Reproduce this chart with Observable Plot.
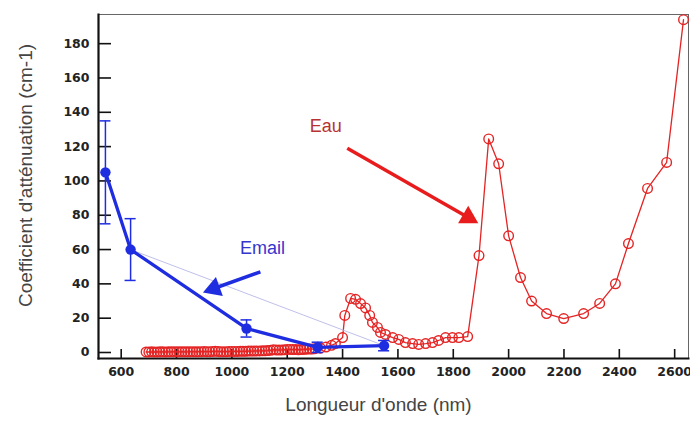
<!DOCTYPE html>
<html>
<head>
<meta charset="utf-8">
<script src="https://cdn.jsdelivr.net/npm/d3@7"></script>
<script src="https://cdn.jsdelivr.net/npm/@observablehq/plot@0.6"></script>
<style>
  html, body { margin: 0; padding: 0; background: #fff; }
  #chart { width: 690px; height: 421px; }
</style>
</head>
<body>
<div id="chart"></div>
<script>
// ---- Data ----
const xTicks = [600, 800, 1000, 1200, 1400, 1600, 1800, 2000, 2200, 2400, 2600];
const yTicks = [0, 20, 40, 60, 80, 100, 120, 140, 160, 180];

// Eau (water) absorption, nm
const eauX = [690, 700, 710, 720, 730, 740, 750, 760, 770, 780, 790, 800, 810, 820, 830, 840, 850, 860, 870, 880,
  890, 900, 910, 920, 930, 940, 950, 960, 970, 980, 990, 1000, 1010, 1020, 1030, 1040, 1050, 1060, 1070, 1080,
  1090, 1100, 1110, 1120, 1130, 1140, 1150, 1160, 1170, 1180, 1190, 1200, 1210, 1220, 1230, 1240, 1250, 1260,
  1270, 1280, 1290, 1300, 1320, 1340, 1360, 1374, 1400, 1408, 1429, 1447, 1465, 1483, 1498, 1508, 1526, 1537,
  1555, 1581, 1603, 1627, 1653, 1675, 1700, 1725, 1747, 1772, 1797, 1820, 1852, 1893, 1928, 1964, 2000, 2043,
  2083, 2137, 2199, 2271, 2329, 2386, 2433, 2502, 2571, 2632];
const eauY = [0.3, 0.3, 0.4, 0.3, 0.3, 0.4, 0.4, 0.3, 0.4, 0.4, 0.5, 0.4, 0.4, 0.5, 0.4, 0.4, 0.5, 0.5, 0.4, 0.5,
  0.5, 0.6, 0.5, 0.5, 0.6, 0.7, 0.6, 0.5, 0.5, 0.5, 0.6, 0.6, 0.6, 0.6, 0.7, 0.7, 0.7, 0.8, 0.8, 0.8,
  0.9, 0.9, 1.0, 1.0, 1.1, 1.3, 1.6, 1.5, 1.4, 1.5, 1.6, 1.8, 1.8, 1.7, 1.7, 1.6, 1.7, 1.8,
  1.9, 2.0, 2.0, 2.2, 2.5, 3.2, 4.2, 5.2, 8.7, 21.6, 31.5, 31, 28.5, 26, 21.6, 17.5, 14.6, 11.7,
  10.5, 8.7, 7.6, 5.8, 5.2, 4.7, 5.2, 5.8, 7.0, 8.7, 8.7, 8.7, 9.3, 56.5, 124.5, 110, 68, 43.7,
  30, 22.7, 19.8, 22.7, 28.6, 40, 63.5, 95.6, 110.8, 194];

// Email (enamel) with error bars
const emailX   = [543, 634, 1053, 1310, 1550];
const emailY   = [105, 60, 14, 3, 4];
const emailErr = [30, 18, 5, 3, 3];

// Annotations (data units)
const labels = [
  {text: "Email", x: 1111, y: 61, color: "#3535cf"},
  {text: "Eau", x: 1339, y: 132, color: "#b83232"}
];
const arrows = [
  {x1: 1103, y1: 47, x2: 935, y2: 37.3, rot: 250, color: "#1f2de0"},
  {x1: 1417, y1: 119, x2: 1854, y2: 78.7, rot: 120, color: "#e81c1c"}
];

const eau = eauX.map((x, i) => ({x, y: eauY[i]}));
const email = emailX.map((x, i) => ({x, y: emailY[i], lo: emailY[i] - emailErr[i], hi: emailY[i] + emailErr[i]}));
const thin = [email[1], email[email.length - 1]];

const blue = "#1f2de0";
const red = "#e42424";

const chart = Plot.plot({
  width: 690,
  height: 421,
  marginLeft: 98,
  marginRight: 2,
  marginTop: 14,
  marginBottom: 63,
  style: {fontFamily: "Liberation Sans, Arial, sans-serif", background: "#fff"},
  x: {domain: [518, 2650]},
  y: {domain: [-3.5, 197]},
  marks: [
    Plot.frame({stroke: "#666", strokeWidth: 1}),
    Plot.frame({anchor: "left", stroke: "#111", strokeWidth: 2.2}),
    Plot.frame({anchor: "bottom", stroke: "#111", strokeWidth: 2}),
    Plot.tickY(yTicks, {y: d => d, insetRight: 577, stroke: "#111", strokeWidth: 1.6}),
    Plot.tickX(xTicks, {x: d => d, insetTop: 335, stroke: "#111", strokeWidth: 1.6}),
    Plot.axisY({ticks: yTicks, tickSize: 0, tickPadding: 9, label: null, fontWeight: "bold",
      tickFormat: d => String(d), fontSize: 12.5, fontFamily: "DejaVu Sans", fill: "#222"}),
    Plot.axisX({ticks: xTicks, tickSize: 0, tickPadding: 9, label: null, fontWeight: "bold",
      tickFormat: d => String(d), fontSize: 12.5, fontFamily: "DejaVu Sans", fill: "#222"}),
    Plot.text(["Coefficient d'atténuation (cm-1)"], {text: d => d, frameAnchor: "left", rotate: -90,
      textAnchor: "middle", dx: -73, dy: -11, fontSize: 19, fill: "#444"}),
    Plot.text(["Longueur d'onde (nm)"], {text: d => d, frameAnchor: "bottom", dx: -15, dy: 52,
      fontSize: 19, fill: "#444"}),

    // Eau
    Plot.line(eau, {x: "x", y: "y", stroke: red, strokeWidth: 1.3}),
    Plot.dot(eau, {x: "x", y: "y", r: 4.8, stroke: red, strokeWidth: 1.4, fill: "none"}),

    // Email
    Plot.line(thin, {x: "x", y: "y", stroke: "#b8b8e6", strokeWidth: 0.9}),
    Plot.line(email, {x: "x", y: "y", stroke: blue, strokeWidth: 3.3}),
    Plot.ruleX(email, {x: "x", y1: "lo", y2: "hi", stroke: blue, strokeWidth: 1.5}),
    Plot.ruleY(email, {y: "lo", x1: d => d.x - 20, x2: d => d.x + 20, stroke: blue, strokeWidth: 1.5}),
    Plot.ruleY(email, {y: "hi", x1: d => d.x - 20, x2: d => d.x + 20, stroke: blue, strokeWidth: 1.5}),
    Plot.dot(email, {x: "x", y: "y", r: 5.2, fill: blue}),

    // Arrows
    Plot.link(arrows, {x1: "x1", y1: "y1", x2: "x2", y2: "y2", stroke: d => d.color, strokeWidth: 3.5}),
    Plot.dot(arrows, {x: "x2", y: "y2", symbol: "triangle", r: 7.5, fill: d => d.color, rotate: "rot"}),

    // Labels
    Plot.text(labels, {x: "x", y: "y", text: "text", fill: d => d.color, fontSize: 18})
  ]
});
document.getElementById("chart").appendChild(chart);
</script>
</body>
</html>
